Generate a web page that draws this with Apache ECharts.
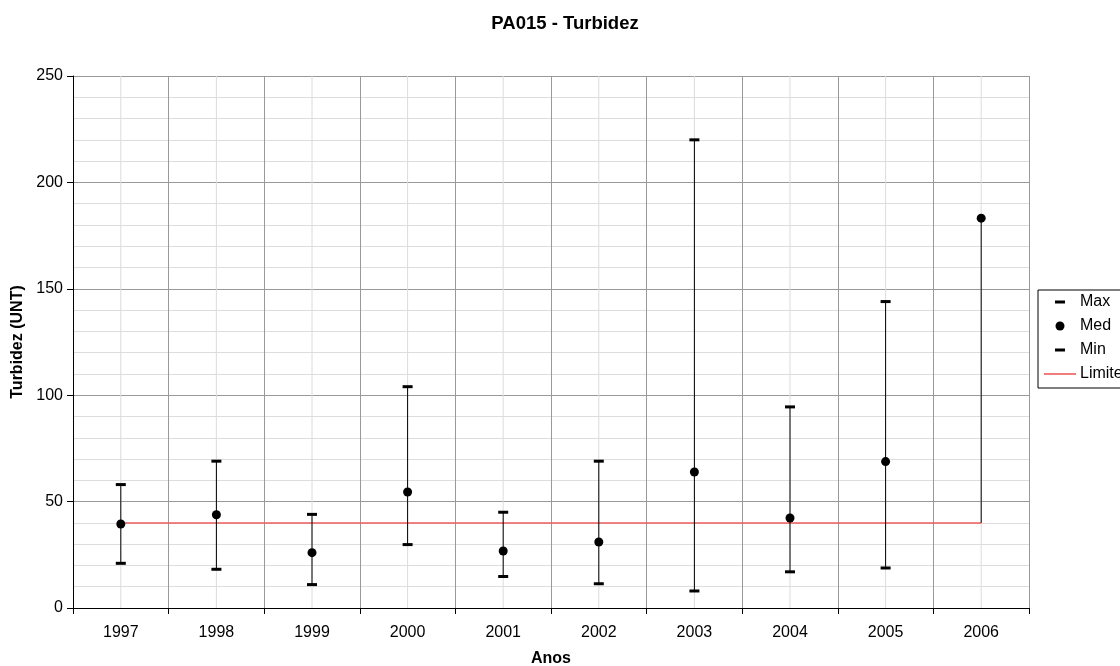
<!DOCTYPE html>
<html><head><meta charset="utf-8">
<script src="https://cdn.jsdelivr.net/npm/echarts@6/dist/echarts.min.js"></script>
<style>html,body{margin:0;padding:0;background:#fff}#c{width:1120px;height:666px}</style>
</head><body><div id="c"></div>
<script>
var years = ['1997','1998','1999','2000','2001','2002','2003','2004','2005','2006'];
var maxVals = [58, 69, 44, 104, 45, 69, 220, 94.5, 144, null];
var medVals = [39.5, 43.8, 26, 54.5, 26.8, 31, 63.9, 42.3, 68.8, 183.2];
var minVals = [21, 18.2, 11, 29.8, 14.8, 11.4, 8, 17, 18.8, null];
var limVals = [40, 40, 40, 40, 40, 40, 40, 40, 40, 40];
var yTicks = [0, 50, 100, 150, 200, 250];

// high-low range across all series per category
var hlData = years.map(function (y, i) {
  var v = [maxVals[i], medVals[i], minVals[i], limVals[i]].filter(function (x) { return x != null; });
  return [i, Math.min.apply(null, v), Math.max.apply(null, v)];
});
var yMin = yTicks[0], yMax = yTicks[yTicks.length - 1];

var font = 'Liberation Sans, Arial, sans-serif';
var chart = echarts.init(document.getElementById('c'), null, {renderer: 'canvas'});
var dash = 'path://M0,0M32,16M11,6.5H21V9.5H11Z';
var dot = 'path://M0,0M32,16M16,3.5A4.5,4.5 0 1 1 16,12.5A4.5,4.5 0 1 1 16,3.5Z';
var lineIcon = 'path://M0,0M32,16M0,7.2H32V8.8H0Z';

chart.setOption({
  animation: false,
  backgroundColor: '#fff',
  title: {
    text: 'PA015 - Turbidez', left: 560, top: 9, textAlign: 'center',
    textStyle: {fontFamily: font, fontSize: 18.5, fontWeight: 'bold', color: '#000'}
  },
  legend: {
    orient: 'vertical', left: 1038, top: 290,
    padding: [4, 6, 6, 6], itemWidth: 32, itemHeight: 16, itemGap: 8,
    borderColor: '#000', borderWidth: 1, backgroundColor: '#fff',
    symbolKeepAspect: true,
    textStyle: {fontFamily: font, fontSize: 16, color: '#000', padding: [0,0,0,-1]},
    data: [
      {name: 'Max', icon: dash},
      {name: 'Med', icon: dot},
      {name: 'Min', icon: dash},
      {name: 'Limite', icon: lineIcon, itemStyle: {color: '#f05c5c', borderWidth: 0}}
    ]
  },
  grid: {left: 73, right: 91, top: 76, bottom: 58, containLabel: false, outerBoundsMode: 'none'},
  xAxis: {
    type: 'category', data: years, boundaryGap: true,
    name: 'Anos', nameLocation: 'middle', nameGap: 43,
    nameTextStyle: {fontFamily: font, fontSize: 16, fontWeight: 'bold', color: '#000'},
    axisLine: {lineStyle: {color: '#000', width: 1}},
    axisTick: {show: true, length: 6, lineStyle: {color: '#000'}},
    axisLabel: {fontFamily: font, fontSize: 16, color: '#000', margin: 17},
    splitLine: {show: true, lineStyle: {color: '#999', width: 1}}
  },
  yAxis: {
    type: 'value', min: yMin, max: yMax, interval: 50,
    name: 'Turbidez (UNT)', nameLocation: 'middle', nameGap: 47,
    nameTextStyle: {fontFamily: font, fontSize: 16, fontWeight: 'bold', color: '#000'},
    axisLine: {show: true, lineStyle: {color: '#000', width: 1}},
    axisTick: {show: true, length: 6, lineStyle: {color: '#000'}},
    axisLabel: {fontFamily: font, fontSize: 16, color: '#000', margin: 10},
    splitLine: {show: true, lineStyle: {color: '#999', width: 1}},
    minorTick: {show: false, splitNumber: 5},
    minorSplitLine: {show: true, lineStyle: {color: '#ddd', width: 1}}
  },
  series: [
    {
      name: 'centers', type: 'custom', z: 0, silent: true,
      data: years.map(function (y, i) { return [i]; }),
      renderItem: function (params, api) {
        var x = api.value(0);
        var p1 = api.coord([x, yMin]);
        var p2 = api.coord([x, yMax]);
        return {type: 'line', shape: {x1: p1[0], y1: p1[1], x2: p2[0], y2: p2[1]},
                style: {stroke: '#dcdcdc', lineWidth: 1}};
      }
    },
    {
      name: 'hl', type: 'custom', z: 3, data: hlData,
      renderItem: function (params, api) {
        var x = api.value(0);
        var p1 = api.coord([x, api.value(1)]);
        var p2 = api.coord([x, api.value(2)]);
        return {type: 'line', shape: {x1: p1[0], y1: p1[1], x2: p2[0], y2: p2[1]},
                style: {stroke: '#000', lineWidth: 1}};
      }
    },
    {
      name: 'Limite', type: 'line', data: limVals, symbol: 'none', showSymbol: false, z: 2,
      lineStyle: {color: '#f05c5c', width: 1.5}, itemStyle: {color: '#f05c5c'}
    },
    {
      name: 'Max', type: 'scatter', data: maxVals, symbol: 'rect', symbolSize: [10, 3], z: 5,
      itemStyle: {color: '#000', opacity: 1}
    },
    {
      name: 'Min', type: 'scatter', data: minVals, symbol: 'rect', symbolSize: [10, 3], z: 5,
      itemStyle: {color: '#000', opacity: 1}
    },
    {
      name: 'Med', type: 'scatter', data: medVals, symbol: 'circle', symbolSize: 9, z: 6,
      itemStyle: {color: '#000', opacity: 1}
    }
  ]
});
</script>
</body></html>
